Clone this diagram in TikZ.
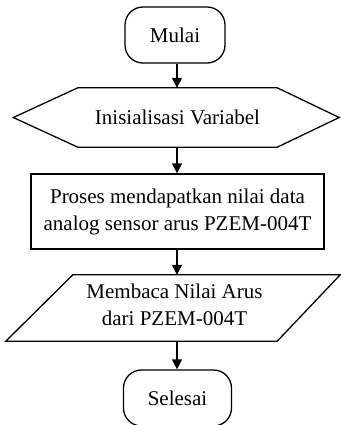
\documentclass[tikz,border=0pt]{standalone}
\usepackage{fontspec}
\setmainfont{Liberation Serif}
\usetikzlibrary{arrows.meta,calc}
\begin{document}
\begin{tikzpicture}[x=1pt,y=-1pt,
  txt/.style={inner sep=0pt, align=center, font=\fontsize{21}{27}\selectfont},
  term/.style={txt, draw, line width=1.3pt, rounded corners=18pt},
  procbox/.style={txt, draw, line width=1.3pt},
  outline/.style={line width=1.3pt, line join=miter},
  arr/.style={line width=1.3pt, -{Triangle[length=10pt,width=10pt]}}]
\useasboundingbox (0,0) rectangle (340,425);
% terminals
\node[term, minimum width=100pt, minimum height=56pt] (start) at (175,35) {Mulai};
% hexagon
\node[txt, minimum width=199pt, minimum height=59pt] (init) at (177.5,117.5) {Inisialisasi Variabel};
\draw[outline] (init.north west) -- (init.north east) -- ($(init.east)+(62,0)$)
  -- (init.south east) -- (init.south west) -- ($(init.west)+(-64.5,0)$) -- cycle;
% process
\node[procbox, minimum width=293pt, minimum height=75pt] (proc) at (177.5,211.5)
  {Proses mendapatkan nilai data\\analog sensor arus PZEM-004T};
% input/output parallelogram
\node[txt, minimum width=270pt, minimum height=66pt] (read) at (174.5,305)
  {Membaca Nilai Arus\\dari PZEM-004T};
\draw[outline] ($(read.north west)+(33.5,3)$) -- ($(read.north east)+(30.5,3)$)
  -- ($(read.south east)+(-32.5,3)$) -- ($(read.south west)+(-33.5,3)$) -- cycle;
\coordinate (readtop) at ($(read.north)+(0,3)$);
\coordinate (readbot) at ($(read.south)+(0,3)$);
% end
\node[term, minimum width=108pt, minimum height=56pt] (end) at (177.5,398) {Selesai};
% connectors
\draw[arr] (start.south -| 177,0) -- (init.north -| 177,0);
\draw[arr] (init.south -| 177,0) -- (proc.north -| 177,0);
\draw[arr] (proc.south -| 177,0) -- (readtop -| 177,0);
\draw[arr] (readbot -| 177,0) -- (end.north -| 177,0);
\end{tikzpicture}
\end{document}
